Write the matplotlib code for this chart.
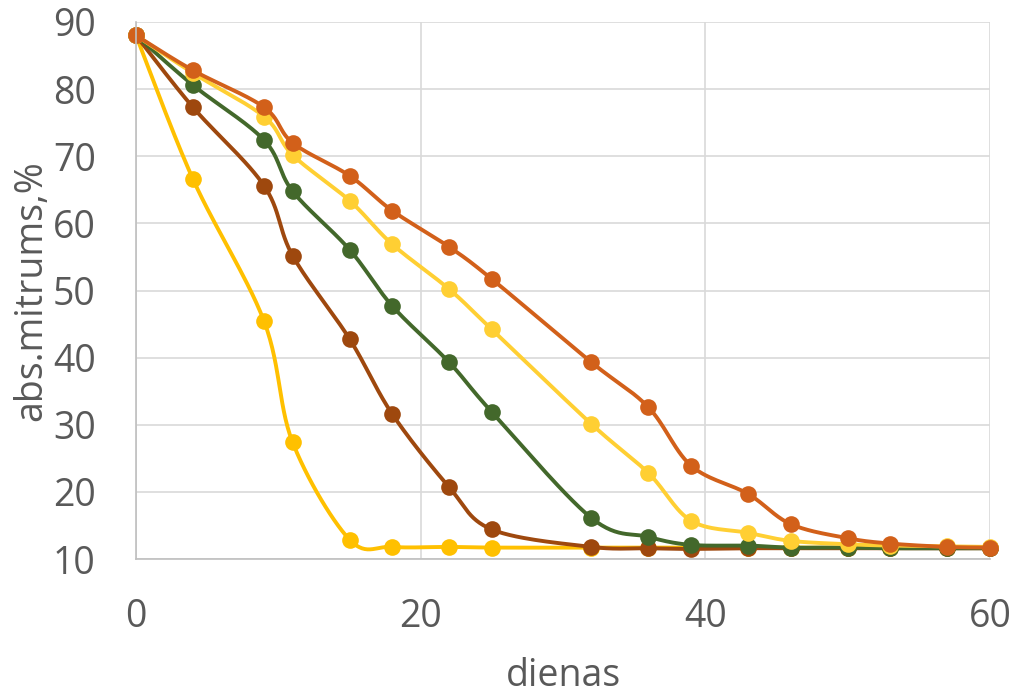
import matplotlib
matplotlib.use("Agg")
import matplotlib.pyplot as plt
import numpy as np

# days of measurement
days = [0, 4, 9, 11, 15, 18, 22, 25, 32, 36, 39, 43, 46, 50, 53, 57, 60]

# absolute moisture, % (one list per drying variant)
gold = [88.0, 66.6, 45.4, 27.4, 12.9, 11.8, 11.8, 11.7, 11.7, 11.7, 11.7, 11.7, 11.7, 11.7, 11.7, 11.7, 11.7]
brown = [88.0, 77.3, 65.6, 55.2, 42.8, 31.6, 20.7, 14.4, 11.8, 11.6, 11.5, 11.6, 11.6, 11.6, 11.6, 11.6, 11.6]
green = [88.0, 80.6, 72.4, 64.8, 56.1, 47.7, 39.3, 31.9, 16.1, 13.3, 12.1, 12.0, 11.7, 11.7, 11.6, 11.6, 11.6]
yellow = [88.0, 82.4, 75.9, 70.2, 63.4, 56.9, 50.2, 44.2, 30.1, 22.8, 15.7, 13.9, 12.7, 12.2, 12.0, 11.9, 11.8]
orange = [88.0, 82.8, 77.3, 72.0, 67.1, 61.9, 56.5, 51.7, 39.3, 32.6, 23.9, 19.7, 15.2, 13.1, 12.3, 11.8, 11.7]

series = [
    (gold, "#FFC000"),
    (brown, "#9E480E"),
    (green, "#43682B"),
    (yellow, "#FFCF33"),
    (orange, "#D2601A"),
]

TEXT = "#595959"
plt.rcParams["font.family"] = ["Open Sans", "DejaVu Sans"]


def smooth(x, y, n=30):
    """Excel-like smoothed line: Catmull-Rom style cubic Bezier segments."""
    p = np.column_stack([x, y]).astype(float)
    p_ext = np.vstack([p[0], p, p[-1]])
    t = np.linspace(0, 1, n)[:, None]
    out = []
    for i in range(len(p) - 1):
        p0, p1, p2, p3 = p_ext[i], p_ext[i + 1], p_ext[i + 2], p_ext[i + 3]
        c1 = p1 + (p2 - p0) / 6
        c2 = p2 - (p3 - p1) / 6
        seg = ((1 - t) ** 3) * p1 + 3 * ((1 - t) ** 2) * t * c1 + 3 * (1 - t) * t ** 2 * c2 + t ** 3 * p2
        out.append(seg if i == 0 else seg[1:])
    out = np.vstack(out)
    return out[:, 0], out[:, 1]


fig = plt.figure(figsize=(10.17, 6.94), dpi=100)
ax = fig.add_axes([136 / 1017, 135 / 694, 854 / 1017, 537 / 694])

for values, color in series:
    sx, sy = smooth(days, values)
    ax.plot(sx, sy, color=color, linewidth=2.8, solid_capstyle="round", clip_on=False)
    ax.plot(days, values, "o", color=color, markersize=12, markeredgewidth=0, clip_on=False)

ax.set_xlim(0, 60)
ax.set_ylim(10, 90)
ax.set_xticks(range(0, 61, 20))
ax.set_yticks(range(10, 91, 10))
ax.grid(True, color="#D9D9D9", linewidth=1.2)
ax.set_axisbelow(True)
for side in ("top", "right"):
    ax.spines[side].set_visible(False)
for side in ("left", "bottom"):
    ax.spines[side].set_color("#BFBFBF")
    ax.spines[side].set_linewidth(1.2)
ax.tick_params(axis="both", length=0, labelsize=27, labelcolor=TEXT)
ax.tick_params(axis="y", pad=29)
ax.tick_params(axis="x", pad=28)
ax.set_xlabel("dienas", fontsize=27, color=TEXT, labelpad=15)
ax.set_ylabel("abs.mitrums,%", fontsize=27, color=TEXT, labelpad=2)

fig.savefig("out.png", dpi=100)
